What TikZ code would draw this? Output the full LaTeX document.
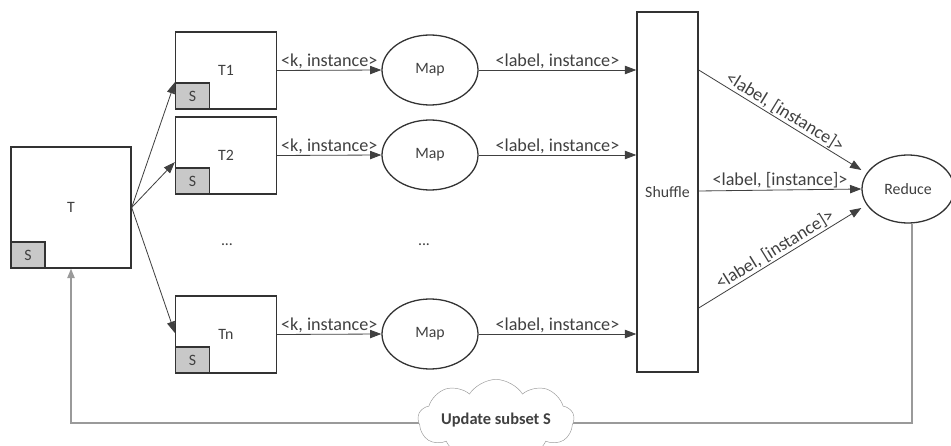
\documentclass[tikz,border=0pt]{standalone}
\usepackage{fontspec}
\setmainfont{Carlito}
\usetikzlibrary{positioning, arrows.meta, shapes.geometric, shapes.symbols}

\definecolor{boxgray}{HTML}{333333}
\definecolor{linegray}{HTML}{404040}
\definecolor{loopgray}{HTML}{9A9A9A}
\definecolor{subsetfill}{HTML}{C8C8C8}

\begin{document}
\begin{tikzpicture}[
    x=0.3mm, y=-0.3mm,
    font=\fontsize{13.5}{15}\selectfont,
    text=linegray,
    % Task box style
    taskbox/.style={
        rectangle,
        draw=boxgray,
        line width=1.2pt,
        fill=white,
        minimum width=3.03cm,
        minimum height=2.31cm,
        inner sep=0pt
    },
    % Subset box style
    subsetbox/.style={
        rectangle,
        draw=boxgray,
        line width=1.2pt,
        fill=subsetfill,
        minimum width=1.02cm,
        minimum height=0.78cm,
        inner sep=0pt,
        anchor=south west
    },
    % Map / reduce ellipse style
    phase/.style={
        ellipse,
        draw=boxgray,
        line width=1.1pt,
        fill=white,
        minimum width=2.88cm,
        minimum height=2.1cm,
        inner sep=0pt
    },
    % Arrow style
    arrow/.style={
        -{Triangle[length=3.4mm, width=2.5mm]},
        draw=linegray,
        line width=0.7pt
    },
    % Loop line style
    loopline/.style={
        -{Triangle[length=2.8mm, width=2.2mm]},
        draw=loopgray,
        line width=1pt
    },
    % Edge label style
    lbl/.style={
        font=\fontsize{15.5}{17}\selectfont,
        inner sep=1pt
    }
]

\useasboundingbox (0,0) rectangle (951,446);

% === Input data set ===
\node[taskbox, minimum width=3.6cm, minimum height=3.63cm] (T) at (71,207.5) {T};
\node[subsetbox] (Ts) at (T.south west) {S};

% === Sub tasks ===
\node[taskbox] (T1) at (226,70.5) {T1};
\node[subsetbox] (T1s) at (T1.south west) {S};
\node[taskbox] (T2) at (226,155.5) {T2};
\node[subsetbox] (T2s) at (T2.south west) {S};
\node[taskbox] (Tn) at (226,334.5) {Tn};
\node[subsetbox] (Tns) at (Tn.south west) {S};
\node (dotsT) at (227,245) {...};

% === Map phase ===
\node[phase] (map1) at (430,70) {Map};
\node[phase] (map2) at (430,155) {Map};
\node[phase] (mapn) at (430,334) {Map};
\node (dotsM) at (424,245) {...};

% === Shuffle and reduce ===
\node[rectangle, draw=boxgray, line width=1.2pt, minimum width=1.83cm,
      minimum height=10.8cm, inner sep=0pt] (shuffle) at (667.5,192) {Shuffle};
\node[phase, minimum width=2.76cm, minimum height=2.04cm] (reduce) at (908,189) {Reduce};

% Arrows from T to sub tasks
\draw[arrow] (T.east) -- (T1s.north west);
\draw[arrow] (T.east) -- ([yshift=-0.2cm]T2.west);
\draw[arrow] (T.east) -- ([yshift=0.05cm]Tn.west);

% Arrows from sub tasks to map
\draw[arrow] (T1.east) -- node[lbl, above] {<k, instance>} (map1.west);
\draw[arrow] (T2.east) -- node[lbl, above] {<k, instance>} (map2.west);
\draw[arrow] (Tn.east) -- node[lbl, above] {<k, instance>} (mapn.west);

% Arrows from map to shuffle
\draw[arrow] (map1.east) -- node[lbl, above] {<label, instance>} (shuffle.west |- map1.east);
\draw[arrow] (map2.east) -- node[lbl, above] {<label, instance>} (shuffle.west |- map2.east);
\draw[arrow] (mapn.east) -- node[lbl, above] {<label, instance>} (shuffle.west |- mapn.east);

% Arrows from shuffle to reduce
\draw[arrow] (shuffle.east |- map1.east) -- node[lbl, above, sloped] {<label, [instance]>} ([yshift=0.57cm]reduce.west);
\draw[arrow] ([yshift=0.03cm]shuffle.east) -- node[lbl, above] {<label, [instance]>} (reduce.west);
\draw[arrow] ([yshift=-3.48cm]shuffle.east) -- node[lbl, above, sloped] {<label, [instance]>} ([yshift=-0.57cm]reduce.west);

% === Feedback loop ===
\coordinate (loop) at (0,423);
\draw[loopline] ([xshift=0.12cm]reduce.south) |- (loop -| T.south) -- (T.south);
\node[cloud, cloud puffs=9, cloud puff arc=115, aspect=2.8, draw=loopgray, fill=white,
      minimum width=4.5cm, minimum height=1.6cm, inner sep=0pt,
      font=\fontsize{14}{15}\selectfont\bfseries] (update) at (496,420) {Update subset S};

\end{tikzpicture}
\end{document}
